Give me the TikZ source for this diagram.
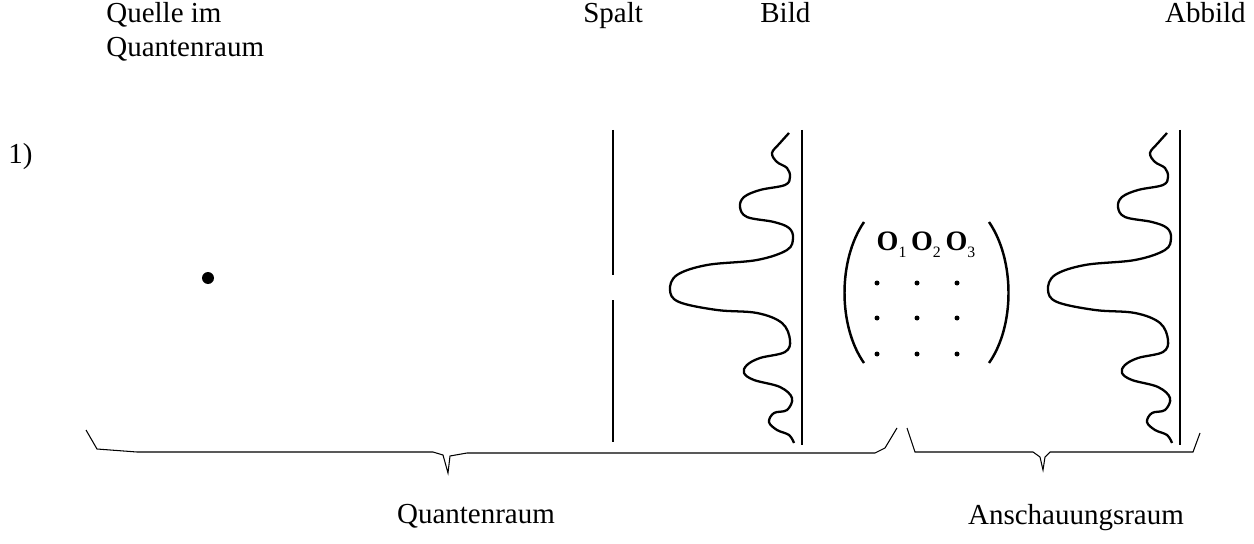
\documentclass[tikz,border=0pt]{standalone}
\usepackage{fontspec}
\setmainfont{Liberation Serif}
\usepackage{tikz}
\usetikzlibrary{positioning}

\tikzset{
    pics/wave/.style={code={
        \draw[wavy] plot[smooth, tension=0.6] coordinates {
            (-13,133) (-22,143) (-30,153) (-25,162) (-15,168) (-12,177) (-17,185)
            (-42,190) (-58,197) (-62,207) (-55,217) (-28,222) (-13,228) (-9,238)
            (-15,250) (-45,260) (-95,265) (-125,275) (-132,290) (-123,302) (-85,310)
            (-45,313) (-20,323) (-12,340) (-17,352) (-42,358) (-55,365) (-58,373)
            (-48,380) (-22,387) (-10,398) (-15,410) (-28,413) (-33,422) (-25,430)
            (-13,435) (-8,443)};
        \draw[screen] (0,130) -- (0,445);
    }}
}

\begin{document}
\begin{tikzpicture}[
    x=0.02cm, y=-0.02cm,
    label/.style={inner sep=0pt, font=\fontsize{16.5}{19.5}\selectfont, align=left},
    screen/.style={line width=1.4pt},
    wavy/.style={line width=1.3pt, line join=round},
    brace/.style={line width=0.6pt},
    spot/.style={circle, fill=black, inner sep=0pt, minimum size=#1}
]
    \useasboundingbox (0,0) rectangle (1254,544);

    % headings
    \node[label, anchor=north west] (quelle) at (106,2) {Quelle im\\Quantenraum};
    \node[label, anchor=north west] (spalt) at (583,2) {Spalt};
    \node[label, anchor=north west] (bild) at (760,2) {Bild};
    \node[label, anchor=north east] (abbild) at (1246,2) {Abbild};
    \node[label, anchor=north west] (nr) at (8,143) {1)};

    % source and slit
    \node[spot=0.24cm] (source) at (208,278) {};
    \draw[screen] (613,130) -- (613,275);
    \draw[screen] (613,300) -- (613,442);

    % image and mapped image
    \pic at (802,0) {wave};
    \pic at (1180,0) {wave};

    % operator matrix
    \node[anchor=base, inner sep=0pt, font=\fontsize{16}{18}\selectfont] (ops) at (926,250)
        {\textbf{O}\raisebox{-0.55ex}{\small 1}\,\textbf{O}\raisebox{-0.55ex}{\small 2}\,\textbf{O}\raisebox{-0.55ex}{\small 3}};
    \foreach \r in {283,318,354}
        \foreach \c in {877,917,957}
            \node[spot=0.1cm] at (\c,\r) {};
    \draw[screen] (864,222) .. controls (838,260) and (838,326) .. (864,363);
    \draw[screen] (989,222) .. controls (1015,260) and (1015,326) .. (989,363);

    % braces
    \draw[brace] (86,430) -- (97,449) -- (137,452) -- (433,452) -- (443,455) -- (448,473)
        -- (450,456) -- (467,453) -- (875,453) -- (885,448) -- (897,428);
    \draw[brace] (907,428) -- (915,452) -- (1033,452) -- (1040,457) -- (1043,470)
        -- (1045,457) -- (1050,452) -- (1193,452) -- (1200,433);

    \node[label, anchor=north] (qraum) at (476,504) {Quantenraum};
    \node[label, anchor=north] (araum) at (1076,504) {Anschauungsraum};
\end{tikzpicture}
\end{document}
